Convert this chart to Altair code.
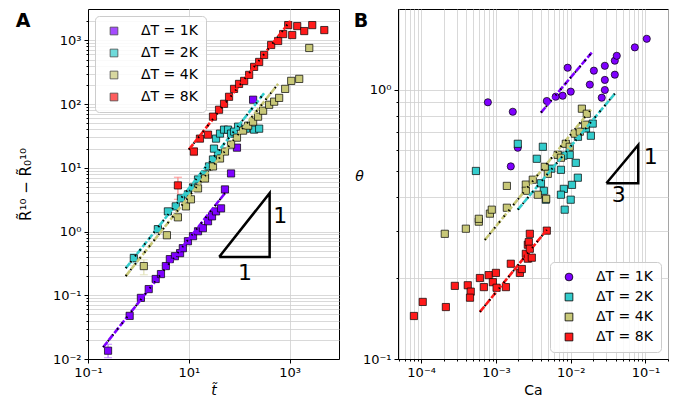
import altair as alt
import pandas as pd

SERIES = ["ΔT = 1K", "ΔT = 2K", "ΔT = 4K", "ΔT = 8K"]
COLORS = ["#7f00ff", "#33cccc", "#c8c878", "#ff1a1a"]
ERR_COLORS = ["#bf80ff", "#99e6e6", "#e3e3bb", "#ff8c8c"]

# ---------------- Panel A : R^10 - R0^10 vs t ----------------
A_t_1K = [0.25, 0.67, 1.12, 1.6, 2.2, 2.8, 3.5, 4.2, 5.3, 6.7, 7.6, 9.6, 12.1, 15.2, 19, 24, 28.8, 34.6, 43.5, 52, 68.7, 90, 188]
A_R_1K = [0.0135, 0.0475, 0.091, 0.125, 0.18, 0.215, 0.287, 0.369, 0.41, 0.458, 0.548, 0.705, 0.845, 1.01, 1.13, 1.45, 1.73, 2.07, 2.31, 4.58, 8.15, 20.7, 117]
A_t_2K = [0.81, 2.43, 3.84, 5.5, 6.97, 9.6, 12.1, 15.2, 20.9, 25.1, 30.1, 37.9, 31.5, 34.6, 41.5, 49.9, 59.9, 68.7, 78.8, 94.6, 136, 197, 248]
A_R_2K = [0.383, 1.09, 2.07, 2.48, 3.31, 3.83, 4.92, 6.56, 7.86, 10.5, 13.5, 16.7, 20.0, 28.7, 34.4, 39.7, 39.7, 34.4, 36.9, 44.2, 41.1, 39.7, 41.1]
A_t_4K = [1.28, 3.67, 6.07, 8.76, 11.0, 15.2, 20.9, 30.1, 41.5, 52.0, 68.7, 90, 119, 150, 188, 236, 297, 391, 492, 618, 814, 1072, 1545, 2443]
A_R_4K = [0.287, 0.875, 1.67, 2.48, 3.2, 4.75, 6.8, 10.5, 14.0, 18.0, 23.1, 29.7, 38.3, 45.8, 52.9, 63.4, 78.6, 97.5, 109, 125, 173, 231, 248, 758]
A_t_8K = [6.07, 12.6, 16.6, 24, 30.1, 39.7, 49.9, 62.7, 78.8, 99, 125, 157, 197, 248, 311, 429, 590, 743, 934, 1122, 1410, 1941, 2800, 4853]
A_R_8K = [5.29, 18.0, 28.7, 33.1, 63.4, 81.5, 101, 130, 173, 207, 231, 287, 383, 458, 589, 845, 975, 1254, 1733, 1210, 1672, 1397, 1733, 1448]

A_err_series = [0, 1, 2, 3, 3]
A_err_t = [0.25, 0.81, 1.28, 6.07, 12.6]
A_err_lo = [0.0105, 0.32, 0.21, 3.2, 15.6]
A_err_hi = [0.017, 0.45, 0.36, 7.1, 20.5]

A_fit_t = [[0.2, 52], [0.56, 311], [0.56, 590], [10, 1023]]
A_fit_R = [[0.0153, 4.0], [0.266, 148], [0.2, 207], [19.3, 2004]]

A_tri_t = [40, 400, 400, 40]
A_tri_R = [0.4, 0.4, 4, 0.4]
A_lab_t = [647, 130]
A_lab_R = [1.73, 0.223]
A_lab_text = ["1", "1"]

# ---------------- Panel B : theta vs Ca ----------------
B_Ca_1K = [7.8e-4, 1.68e-3, 1.58e-3, 1.96e-3, 4.79e-3, 6.3e-3, 7.8e-3, 0.01, 9.1e-3, 0.018, 0.0204, 0.026, 0.0286, 0.0286, 0.0286, 0.0389, 0.0389, 0.0413, 0.072, 0.104]
B_th_1K = [0.90, 0.83, 0.52, 0.61, 0.91, 0.944, 0.952, 0.986, 1.21, 1.047, 1.18, 0.936, 1.0, 1.09, 1.23, 1.14, 1.285, 1.34, 1.44, 1.55]
B_Ca_2K = [5.4e-4, 1.96e-3, 4.24e-3, 3.52e-3, 9.7e-3, 0.0117, 7.4e-3, 0.01245, 0.0104, 8.1e-3, 4.37e-3, 4.65e-3, 7.4e-3, 0.01, 8.3e-3, 0.0186, 0.0197, 4.0e-3, 5.5e-3, 8.0e-3, 0.0125, 0.016]
B_th_2K = [0.50, 0.631, 0.615, 0.555, 0.574, 0.536, 0.505, 0.472, 0.444, 0.429, 0.422, 0.391, 0.408, 0.391, 0.359, 0.676, 0.75, 0.45, 0.51, 0.57, 0.67, 0.72]
B_Ca_4K = [2.07e-4, 3.96e-4, 5.9e-4, 5.9e-4, 8.3e-4, 8.8e-4, 1.40e-3, 1.40e-3, 2.51e-3, 2.51e-3, 3.11e-3, 3.63e-3, 4.5e-3, 4.94e-3, 4.7e-3, 6.7e-3, 7.4e-3, 8.6e-3, 9.7e-3, 0.01135, 0.01324, 0.0141, 0.0164, 0.0156]
B_th_4K = [0.292, 0.305, 0.324, 0.332, 0.347, 0.359, 0.365, 0.44, 0.445, 0.422, 0.464, 0.408, 0.518, 0.488, 0.394, 0.574, 0.56, 0.631, 0.615, 0.688, 0.70, 0.852, 0.816, 0.743]
B_Ca_8K = [8.0e-5, 1.05e-4, 2.14e-4, 2.82e-4, 4.2e-4, 4.6e-4, 4.5e-4, 6.1e-4, 6.9e-4, 8.0e-4, 9.1e-4, 1.0e-3, 1.02e-3, 1.36e-3, 1.58e-3, 2.09e-3, 2.22e-3, 2.51e-3, 2.67e-3, 2.67e-3, 2.84e-3, 2.75e-3, 3.02e-3, 2.84e-3, 4.79e-3]
B_th_8K = [0.1445, 0.163, 0.156, 0.187, 0.188, 0.178, 0.169, 0.200, 0.185, 0.205, 0.193, 0.209, 0.184, 0.185, 0.226, 0.209, 0.216, 0.246, 0.236, 0.266, 0.292, 0.272, 0.238, 0.257, 0.30]

B_fit_Ca = [[0.004, 0.0191], [1.96e-3, 0.0389], [7.1e-4, 0.0186], [6.1e-4, 4.79e-3]]
B_fit_th = [[0.824, 1.377], [0.359, 0.969], [0.277, 0.845], [0.1496, 0.302]]

B_tri_Ca = [0.03, 0.08, 0.08, 0.03]
B_tri_th = [0.45, 0.45, 0.625, 0.45]
B_lab_Ca = [0.118, 0.044]
B_lab_th = [0.565, 0.408]
B_lab_text = ["1", "3"]

FONT = "DejaVu Sans"

# ---------------- helpers ----------------
def series_frame(xs_list, ys_list):
    rows = []
    for i, (xs, ys) in enumerate(zip(xs_list, ys_list)):
        for x, y in zip(xs, ys):
            rows.append({"series": SERIES[i], "col": COLORS[i], "x": x, "y": y})
    return pd.DataFrame(rows)


def decade_ticks(lo, hi):
    vals = []
    for e in range(-6, 5):
        for m in range(1, 10):
            v = float("%.12g" % (m * 10.0 ** e))
            if lo * 0.999 <= v <= hi * 1.001:
                vals.append(v)
    return vals


L10 = "(log(datum.value)/LN10)"
MAJOR = f"abs({L10} - round({L10})) < 0.01"
SUP = "['10⁻⁵','10⁻⁴','10⁻³','10⁻²','10⁻¹','10⁰','10¹','10²','10³','10⁴']"
LABEL_EXPR = f"{MAJOR} ? {SUP}[round({L10}) + 5] : ''"


def log_axis(values, title, **kw):
    return alt.Axis(
        values=values, labelExpr=LABEL_EXPR, title=title, grid=True,
        labelOverlap=False, labelBound=False, labelFlush=False,
        tickSize={"condition": {"test": MAJOR, "value": 4}, "value": 2},
        **kw,
    )


def build_panel(pts, fits, tri_x, tri_y, lab_x, lab_y, lab_text, xscale, yscale,
                xaxis, yaxis, legend, shapes, letter, letter_x, err=None,
                width=250, height=350):
    X = lambda f: alt.X(f"{f}:Q", scale=xscale, axis=xaxis)
    Y = lambda f: alt.Y(f"{f}:Q", scale=yscale, axis=yaxis)

    layers = []
    if err is not None:
        err_df, cap_df = err
        layers.append(alt.Chart(err_df).mark_rule(strokeWidth=1.3).encode(
            x=X("x"), y=Y("lo"), y2="hi", color=alt.Color("ecol:N", scale=None)))
        layers.append(alt.Chart(cap_df).mark_tick(orient="horizontal", size=8, thickness=1.3).encode(
            x=X("x"), y=Y("y"), color=alt.Color("ecol:N", scale=None)))

    layers.append(alt.Chart(pts).mark_point(
        filled=True, size=52, stroke="black", strokeWidth=0.7, opacity=1).encode(
        x=X("x"), y=Y("y"),
        color=alt.Color("series:N", scale=alt.Scale(domain=SERIES, range=COLORS), legend=legend),
        shape=alt.Shape("series:N", scale=alt.Scale(domain=SERIES, range=shapes), legend=None),
    ))
    layers.append(alt.Chart(fits).mark_line(strokeWidth=2.6, strokeDash=[7, 2]).encode(
        x=X("x"), y=Y("y"), detail="series:N", color=alt.Color("col:N", scale=None)))
    layers.append(alt.Chart(fits).mark_line(strokeWidth=2, strokeDash=[1.5, 6], color="black").encode(
        x=X("x"), y=Y("y"), detail="series:N"))

    tri = pd.DataFrame({"x": tri_x, "y": tri_y, "o": list(range(len(tri_x)))})
    layers.append(alt.Chart(tri).mark_line(color="black", strokeWidth=2.5).encode(
        x=X("x"), y=Y("y"), order="o:Q"))
    labs = pd.DataFrame({"x": lab_x, "y": lab_y, "t": lab_text})
    layers.append(alt.Chart(labs).mark_text(fontSize=22, font=FONT, color="black").encode(
        x=X("x"), y=Y("y"), text="t:N"))
    let = pd.DataFrame({"t": [letter]})
    layers.append(alt.Chart(let).mark_text(fontSize=19, font=FONT, fontWeight="bold",
                                           color="black", align="center", baseline="top").encode(
        x=alt.value(letter_x), y=alt.value(3), text="t:N"))
    return alt.layer(*layers).properties(width=width, height=height)


def legend_for(orient, row_pad):
    return alt.Legend(
        title=None, orient=orient, offset=7, fillColor="rgba(255,255,255,0.85)",
        strokeColor="#cccccc", cornerRadius=4, padding=8, symbolType="square",
        symbolSize=60, symbolStrokeColor="black", symbolStrokeWidth=0.8,
        labelFont=FONT, labelFontSize=14, labelOffset=20, rowPadding=row_pad,
        symbolOffset=4,
    )


# ---------------- Panel A ----------------
A_pts = series_frame([A_t_1K, A_t_2K, A_t_4K, A_t_8K], [A_R_1K, A_R_2K, A_R_4K, A_R_8K])
A_fit = series_frame(A_fit_t, A_fit_R)
A_err = pd.DataFrame({"x": A_err_t, "lo": A_err_lo, "hi": A_err_hi,
                      "ecol": [ERR_COLORS[i] for i in A_err_series]})
A_cap = pd.concat([A_err[["x", "ecol"]].assign(y=A_err["lo"]),
                   A_err[["x", "ecol"]].assign(y=A_err["hi"])])

A_xs = alt.Scale(type="log", domain=[0.1, 9500], nice=False)
A_ys = alt.Scale(type="log", domain=[0.01, 3100], nice=False)
A_xaxis = log_axis([0.1, 10, 1000], "t̃", titleFontStyle="italic", titlePadding=4)
A_yaxis = log_axis(decade_ticks(0.01, 2500), "R̃¹⁰ − R̃₀¹⁰", titlePadding=19,
                   titleFontSize=15)

left = build_panel(A_pts, A_fit, A_tri_t, A_tri_R, A_lab_t, A_lab_R, A_lab_text,
                   A_xs, A_ys, A_xaxis, A_yaxis, legend_for("top-left", 8),
                   ["square", "square", "square", "square"], "A", -65,
                   err=(A_err, A_cap), width=251, height=350)

# ---------------- Panel B ----------------
B_pts = series_frame([B_Ca_1K, B_Ca_2K, B_Ca_4K, B_Ca_8K], [B_th_1K, B_th_2K, B_th_4K, B_th_8K])
B_fit = series_frame(B_fit_Ca, B_fit_th)

B_xs = alt.Scale(type="log", domain=[4.9e-5, 0.2], nice=False)
B_ys = alt.Scale(type="log", domain=[0.1, 2.0], nice=False)
B_xaxis = log_axis(decade_ticks(4.9e-5, 0.2), "Ca", titlePadding=4)
B_yaxis = log_axis(decade_ticks(0.1, 1.9), "θ", titleAngle=0, titleFontStyle="italic",
                   titleX=-39, titleY=167, titleAlign="center", titleBaseline="middle")

right = build_panel(B_pts, B_fit, B_tri_Ca, B_tri_th, B_lab_Ca, B_lab_th, B_lab_text,
                    B_xs, B_ys, B_xaxis, B_yaxis, legend_for("bottom-right", 6),
                    ["circle", "square", "square", "square"], "B", -37,
                    width=270, height=350)

chart = alt.hconcat(left, right, spacing=13).resolve_scale(
    color="independent", shape="independent"
).properties(
    padding={"left": 7, "top": 0, "right": 0, "bottom": 0}
).configure_axis(
    labelFont=FONT, titleFont=FONT, labelFontSize=13, titleFontSize=14,
    labelColor="black", titleColor="black", tickColor="black", domainColor="black",
    gridColor="#cfcfcf", gridWidth=0.8, titleFontWeight="normal", labelPadding=3,
).configure_view(stroke="black", strokeWidth=1)

chart.save("out.html", embed_options={"renderer": "svg", "actions": False})
